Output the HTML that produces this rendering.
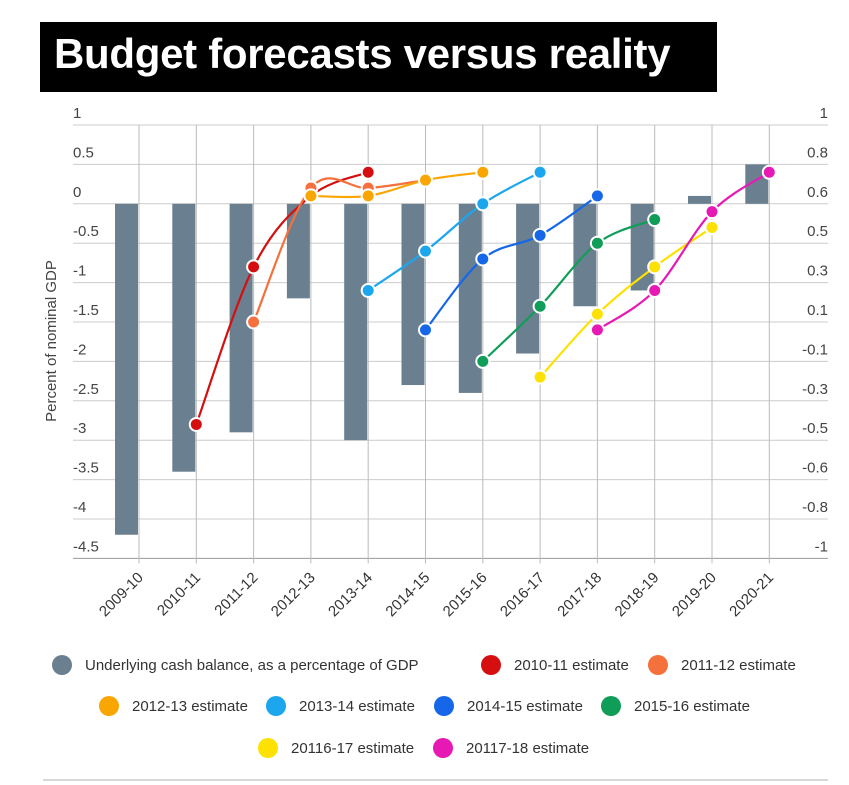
<!DOCTYPE html>
<html><head><meta charset="utf-8">
<style>
body{margin:0;background:#fff;width:849px;height:785px;overflow:hidden;font-family:"Liberation Sans",sans-serif;}
#title{position:absolute;left:40px;top:22px;width:677px;height:70px;background:#000;color:#fff;font-weight:bold;font-size:42px;line-height:64px;padding-left:14px;box-sizing:border-box;letter-spacing:-0.3px;}
svg{position:absolute;left:0;top:0;}
</style></head><body>
<div id="title">Budget forecasts versus reality</div>
<svg id="chart" width="849" height="785"></svg>
<script>
const categories=["2009-10","2010-11","2011-12","2012-13","2013-14","2014-15","2015-16","2016-17","2017-18","2018-19","2019-20","2020-21"];
const cashBalance=[-4.2,-3.4,-2.9,-1.2,-3.0,-2.3,-2.4,-1.9,-1.3,-1.1,0.1,0.5];
const leftTicks=[1,0.5,0,-0.5,-1,-1.5,-2,-2.5,-3,-3.5,-4,-4.5];
const rightTickLabels=["1","0.8","0.6","0.5","0.3","0.1","-0.1","-0.3","-0.5","-0.6","-0.8","-1"];
const est1011=[null,-2.8,-0.8,0.1,0.4];
const est1112=[null,null,-1.5,0.2,0.2,0.3];
const est1213=[null,null,null,0.1,0.1,0.3,0.4];
const est1314=[null,null,null,null,-1.1,-0.6,0.0,0.4];
const est1415=[null,null,null,null,null,-1.6,-0.7,-0.4,0.1];
const est1516=[null,null,null,null,null,null,-2.0,-1.3,-0.5,-0.2];
const est1617=[null,null,null,null,null,null,null,-2.2,-1.4,-0.8,-0.3];
const est1718=[null,null,null,null,null,null,null,null,-1.6,-1.1,-0.1,0.4];
const seriesNames=["2010-11 estimate","2011-12 estimate","2012-13 estimate","2013-14 estimate","2014-15 estimate","2015-16 estimate","20116-17 estimate","20117-18 estimate"];
const seriesColors=["#d50f0f","#f4703d","#f9a602","#1ba6ee","#1566e8","#0f9d58","#fde100","#e619b4"];
const seriesData=[est1011,est1112,est1213,est1314,est1415,est1516,est1617,est1718];

const NS="http://www.w3.org/2000/svg";
const svg=document.getElementById('chart');
const X0=73,X1=828,Y0=125,STEP=39.4;
function y(v){return Y0+(1-v)/0.5*STEP;}
function x(i){return 139+57.3*i;}
function mk(t,a,p){const e=document.createElementNS(NS,t);for(const k in a)e.setAttribute(k,a[k]);(p||svg).appendChild(e);return e;}
const grid=mk('g',{});


leftTicks.forEach((v,i)=>{
  mk('line',{x1:X0,x2:X1,y1:y(v),y2:y(v),stroke:i==leftTicks.length-1?'#999':'#ccc','stroke-width':1},grid);
  const t=mk('text',{x:X0,y:y(v)-7,'font-size':15,fill:'#444'});t.textContent=String(v);
  
  
  const r=mk('text',{x:X1,y:y(v)-7,'font-size':15,fill:'#444','text-anchor':'end'});r.textContent=rightTickLabels[i];
  
  
});
categories.forEach((c,i)=>{
  mk('line',{x1:x(i),x2:x(i),y1:Y0,y2:y(-4.5)+5,stroke:'#bbb','stroke-width':1},grid);
  const t=mk('text',{x:0,y:0,'font-size':15,fill:'#333','text-anchor':'end',transform:`translate(${x(i)+5},${y(-4.5)+20}) rotate(-45)`});
  t.textContent=c;
  
  
});
const yt=mk('text',{x:0,y:0,'font-size':15,fill:'#444','text-anchor':'middle',transform:'translate(56,341) rotate(-90)'});
yt.textContent='Percent of nominal GDP';


cashBalance.forEach((v,i)=>{
  const top=Math.min(y(v),y(0)),h=Math.abs(y(v)-y(0));
  const b=mk('rect',{x:x(i)-24,y:top,width:23,height:h,fill:'#6a8091'});
  
  
});
function path(pts){
  let d=`M${pts[0][0]},${pts[0][1]}`;
  for(let i=0;i<pts.length-1;i++){
    const p0=pts[i-1]||pts[i],p1=pts[i],p2=pts[i+1],p3=pts[i+2]||p2;
    const c1=[p1[0]+(p2[0]-p0[0])/6,p1[1]+(p2[1]-p0[1])/6],c2=[p2[0]-(p3[0]-p1[0])/6,p2[1]-(p3[1]-p1[1])/6];
    d+=` C${c1[0]},${c1[1]} ${c2[0]},${c2[1]} ${p2[0]},${p2[1]}`;
  }
  return d;
}
seriesData.forEach((arr,s)=>{
  const g=mk('g',{});
  
  
  const pts=[];arr.forEach((v,i)=>{if(v!==null)pts.push([x(i),y(v)]);});
  mk('path',{d:path(pts),fill:'none',stroke:seriesColors[s],'stroke-width':2.2},g);
  pts.forEach(p=>{
    const c=mk('circle',{cx:p[0],cy:p[1],r:6.5,fill:seriesColors[s],stroke:'#fff','stroke-width':2},g);
    
    
  });
});
const legend=[["Underlying cash balance, as a percentage of GDP","#6a8091",62,665],
[seriesNames[0],seriesColors[0],491,665],[seriesNames[1],seriesColors[1],658,665],
[seriesNames[2],seriesColors[2],109,706],[seriesNames[3],seriesColors[3],276,706],[seriesNames[4],seriesColors[4],444,706],[seriesNames[5],seriesColors[5],611,706],
[seriesNames[6],seriesColors[6],268,748],[seriesNames[7],seriesColors[7],443,748]];
legend.forEach(l=>{
  const g=mk('g',{});
  
  
  mk('circle',{cx:l[2],cy:l[3],r:10,fill:l[1]},g);
  const t=mk('text',{x:l[2]+23,y:l[3]+5,'font-size':15,fill:'#333'},g);t.textContent=l[0];
});
const bl=mk('line',{x1:43,x2:828,y1:780,y2:780,stroke:'#ccc','stroke-width':1.5});


</script>
</body></html>
